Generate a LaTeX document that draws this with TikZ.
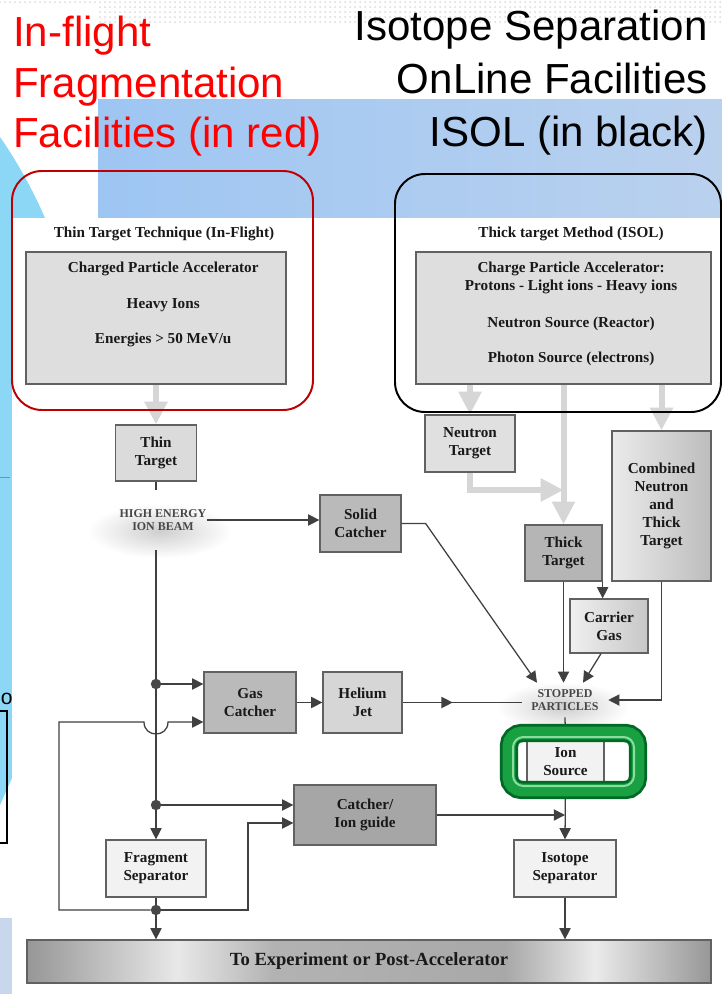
\documentclass[tikz,border=0pt]{standalone}
\usepackage{fontspec}
\setmainfont{Liberation Serif}
\newfontfamily\headfont{Liberation Sans}
\usetikzlibrary{arrows.meta,positioning,calc,decorations.markings}

\definecolor{titlered}{RGB}{255,0,0}
\definecolor{framered}{RGB}{192,0,0}
\definecolor{bandblue}{RGB}{158,198,243}
\definecolor{bandblueR}{RGB}{186,209,238}
\definecolor{skyblue}{RGB}{140,214,246}
\definecolor{lavender}{RGB}{201,215,236}
\definecolor{tubegreen}{RGB}{24,160,66}
\definecolor{tubedark}{RGB}{0,105,38}
\definecolor{tubelight}{RGB}{140,220,160}

\pgfdeclarehorizontalshading{barshade}{100bp}{color(0bp)=(black!41); color(25bp)=(black!41);
  color(36bp)=(black!9); color(43bp)=(black!30); color(60bp)=(black!34);
  color(66.5bp)=(black!8); color(75bp)=(black!41); color(100bp)=(black!41)}

\begin{document}
\begin{tikzpicture}[x=0.025cm, y=-0.025cm,
  >={Triangle[length=0.28cm, width=0.28cm]},
  box/.style={draw=black!62, line width=0.9pt, align=center, inner sep=0pt,
    text=black!90, font=\bfseries\fontsize{10.8}{12.8}\selectfont},
  sz/.style 2 args={minimum width=#1*0.025cm, minimum height=#2*0.025cm},
  acctext/.style={align=center, inner sep=0pt, text=black!90,
    font=\bfseries\fontsize{10.8}{12.8}\selectfont},
  sechead/.style={anchor=base, inner sep=0pt, text=black!90,
    font=\bfseries\fontsize{10.8}{12.8}\selectfont},
  beamtag/.style={align=center, inner sep=0pt, text=black!72,
    font=\bfseries\fontsize{8.5}{9.4}\selectfont},
  wire/.style={draw=black!75, line width=0.9pt},
  flow/.style={wire, ->},
  feed/.style={-{Triangle[length=0.57cm, width=0.55cm]}, draw=black!16, line width=0.15cm},
  junction/.style={circle, fill=black!72, minimum size=0.26cm, inner sep=0pt},
  midarrow/.style={postaction={decorate},
    decoration={markings, mark=at position 0.42 with {\arrow{>}}}}]

  % slide background
  \fill[white] (0,0) rectangle (722,994);
  \useasboundingbox (0,0) rectangle (722,994);
  \foreach \xx in {0,5,...,95} \fill[black!14] (\xx,2) circle[radius=0.025cm];
  \foreach \yy in {2,7,12,17,22}
    \foreach \xx in {100,105,...,720} \fill[black!14] (\xx,\yy) circle[radius=0.025cm];
  \shade[left color=bandblue, right color=bandblueR] (98,99) rectangle (722,218);
  \fill[skyblue] (0,137) .. controls (16,160) and (32,188) .. (45,218)
    -- (45,230) -- (12,230) -- (12,778) -- (0,805) -- cycle;
  \draw[black!45, line width=0.6pt] (0,477) -- (10,477);
  \draw[black, line width=1.2pt] (-2,711) -- (7,711) -- (7,843) -- (-2,843);
  \node[font=\headfont\fontsize{15}{15}\selectfont, inner sep=0pt, anchor=base west] (ofrag) at (0.5,704) {o};
  \fill[lavender] (0,918) rectangle (12,994);
  \fill[white] (12,218) rectangle (722,994);

  % titles
  \node[anchor=north west, align=left, inner sep=0pt, text=titlered,
        font=\headfont\fontsize{29.9}{35.9}\selectfont] (inflight) at (13,16)
        {In-flight\\Fragmentation\\Facilities (in red)};
  \node[anchor=north east, align=right, inner sep=0pt,
        font=\headfont\fontsize{29.9}{37.7}\selectfont] (isol) at (708,10)
        {Isotope Separation\\OnLine Facilities\\ISOL (in black)};

  % glow behind the two labels
  \shade[inner color=black!19, outer color=white] (160,531) ellipse [x radius=1.8cm, y radius=0.68cm];
  \shade[inner color=black!19, outer color=white] (563,707) ellipse [x radius=1.65cm, y radius=0.63cm];

  % sources
  \node[sechead] (thinhead) at (164,237) {Thin Target Technique (In-Flight)};
  \node[sechead] (thickhead) at (571,237) {Thick target Method (ISOL)};

  \node[box, fill=black!13, sz={260}{132}] (accL) at (156,318) {};
  \node[acctext, below=0.27cm of accL.north, xshift=0.18cm] (accLtxt)
    {Charged Particle Accelerator\\[12.4pt]Heavy Ions\\[12.4pt]Energies > 50 MeV/u};

  \node[box, fill=black!13, sz={295}{132}] (accR) at (563.5,318) {};
  \node[acctext, below=0.27cm of accR.north, xshift=0.19cm] (accRtxt)
    {Charge Particle Accelerator:\\Protons - Light ions - Heavy ions\\[13.5pt]%
     Neutron Source (Reactor)\\[12.1pt]Photon Source (electrons)};

  % boxes
  \node[box, fill=black!14, sz={81}{56}] (thin) at (156,453) {Thin\\Target};
  \node[box, fill=black!12, sz={90}{57}] (ntgt) at (470,443.5) {Neutron\\Target};
  \node[box, fill=black!27, sz={81}{57}] (solid) at (360.5,523.5) {Solid\\Catcher};
  \node[box, fill=black!29, sz={77}{56}] (thick) at (563.5,553) {Thick\\Target};
  \node[box, left color=black!8, right color=black!26, sz={99}{150}] (comb) at (661.5,506)
    {Combined\\Neutron\\and\\Thick\\Target};
  \node[box, left color=black!6, right color=black!22, sz={78}{54}] (carrier) at (609,626) {Carrier\\Gas};
  \node[box, fill=black!27, sz={92}{61}] (gas) at (250,702.5) {Gas\\Catcher};
  \node[box, fill=black!16, sz={79}{61}] (helium) at (362.5,702.5) {Helium\\Jet};
  \fill[white] (518,742) rectangle (629,782);
  \node[box, fill=black!5, sz={77}{44}] (ion) at (565.5,762) {Ion\\Source};
  \node[box, fill=black!35, sz={142}{60}] (catcher) at (365,815) {Catcher/\\Ion guide};
  \node[box, fill=black!5, sz={100}{57}] (frag) at (156,868.5) {Fragment\\Separator};
  \node[box, fill=black!5, sz={102}{57}] (isosep) at (565,868.5) {Isotope\\Separator};
  \node[box, shade, shading=barshade, sz={684}{43},
        font=\bfseries\fontsize{13.2}{15}\selectfont] (expt) at (369,961.5)
        {To Experiment or Post-Accelerator};

  \node[beamtag, sz={88}{59}] (beam) at (163,520) {HIGH ENERGY\\ION BEAM};
  \node[beamtag, sz={86}{34}] (stop) at (565,700) {STOPPED\\PARTICLES};

  % primary beams
  \draw[feed] (accL.south) -- (thin.north);
  \draw[feed] (accR.south -| ntgt.north) -- (ntgt.north);
  \draw[feed] (accR.south -| thick.north) -- (thick.north);
  \draw[feed] (accR.south -| comb.north) -- (comb.north);
  \draw[feed] (ntgt.south) |- (thick.north |- 0,490);

  % in-flight branch
  \draw[wire] (thin.south) -- (thin.south |- beam.north);
  \draw[flow] (beam.south -| frag.north) -- (frag.north);
  \node[junction] (j1) at (156,684) {};
  \node[junction] (j2) at (156,805) {};
  \node[junction] (j3) at (156,910) {};
  \draw[flow] (beam.east) -- (beam.east -| solid.west);
  \draw[flow] (j1) -- (j1 -| gas.west);
  \draw[flow] (j2) -- (j2 -| catcher.west);
  \draw[wire] (frag.south) -- (j3);
  \draw[flow] (j3) -- (j3 |- expt.north);
  \draw[flow] (j3) -| (59,722) -- (144,722) .. controls (144,738) and (168,738) .. (168,722)
    -- (gas.west |- 0,722);
  \draw[flow] (j3) -| (248,823) -- (catcher.west |- 0,823);
  \draw[flow] (gas.east) -- (helium.west);

  % into the stopped particles
  \draw[flow] (solid.east) -- ++(24,0) -- ($(stop.north)+(-28,0)$);
  \draw[wire, midarrow] (helium.east) -- (helium.east -| stop.west);
  \draw[flow] (thick.south) -- (thick.south |- stop.north);
  \draw[flow] (thick.south east) -- (thick.south east |- carrier.north);
  \draw[flow] ($(carrier.south)+(-8,0)$) -- ($(stop.north)+(18,0)$);
  \draw[flow] (comb.south) |- (stop.east);

  % ISOL line
  \draw[wire] (stop.south) -- (ion.north);
  \draw[flow] (ion.south) -- (isosep.north);
  \draw[flow] (catcher.east) -- (catcher.east -| isosep.north);
  \draw[flow] (isosep.south) -- (isosep.south |- expt.north);

  % green frame round the ion source
  \draw[tubedark, line width=0.46cm, rounded corners=0.32cm] (509,733) rectangle (638,790);
  \draw[tubegreen, line width=0.32cm, rounded corners=0.32cm] (509,733) rectangle (638,790);
  \draw[tubelight, line width=0.05cm, rounded corners=0.26cm] (513,737) rectangle (634,786);

  % facility frames
  \draw[framered, line width=1.4pt, rounded corners=0.75cm] (12,171) rectangle (313,410);
  \draw[black, line width=1.4pt, rounded corners=0.75cm] (395,174) rectangle (721,412);

\end{tikzpicture}
\end{document}
